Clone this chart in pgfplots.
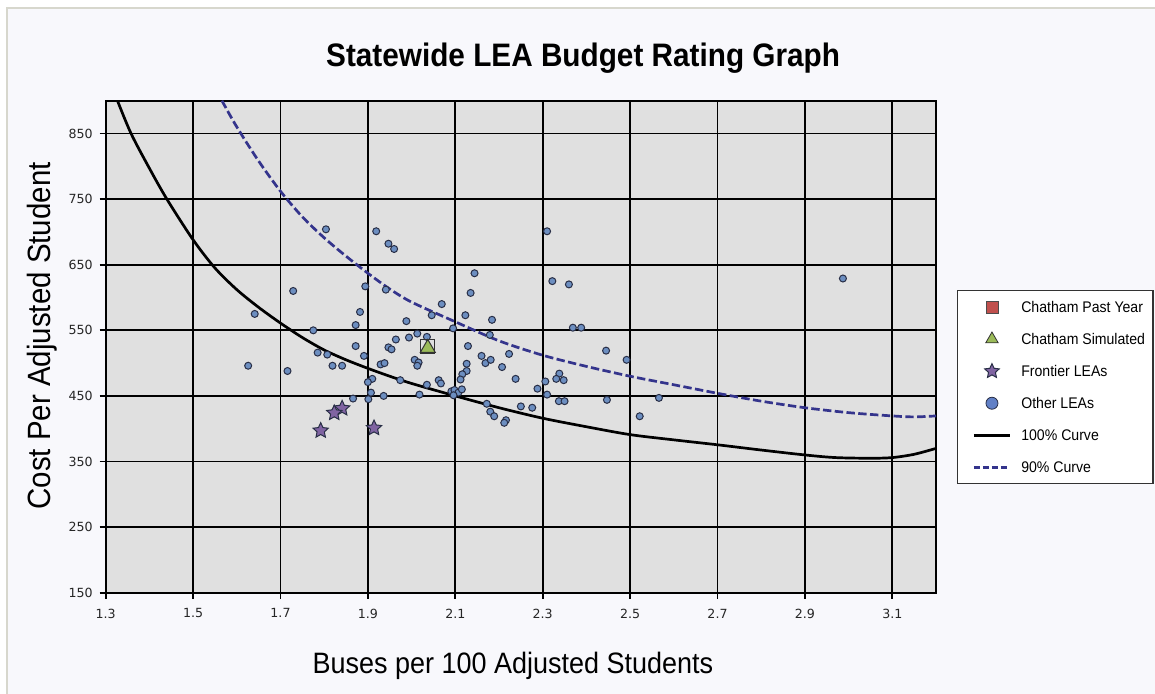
\documentclass[border=0pt]{standalone}
\usepackage{fontspec}
\setmainfont{Liberation Sans}[FakeStretch=0.915]
\newfontfamily\tickfont{DejaVu Sans}
\usepackage{pgfplots}
\pgfplotsset{compat=1.18}
\definecolor{plotbg}{RGB}{224,224,224}
\definecolor{pagebg}{RGB}{248,248,252}
\definecolor{framecol}{RGB}{215,215,205}
\definecolor{dotfill}{RGB}{108,142,192}
\definecolor{dotedge}{RGB}{40,46,70}
\definecolor{starfill}{RGB}{128,100,162}
\definecolor{trifill}{RGB}{155,187,89}
\definecolor{sqfill}{RGB}{192,80,77}
\definecolor{dashcol}{RGB}{52,52,140}
\pgfdeclareplotmark{fstar}{%
  \pgfpathmoveto{\pgfpointpolar{90}{\pgfplotmarksize}}%
  \pgfpathlineto{\pgfpointpolar{126}{0.48\pgfplotmarksize}}%
  \pgfpathlineto{\pgfpointpolar{162}{\pgfplotmarksize}}%
  \pgfpathlineto{\pgfpointpolar{198}{0.48\pgfplotmarksize}}%
  \pgfpathlineto{\pgfpointpolar{234}{\pgfplotmarksize}}%
  \pgfpathlineto{\pgfpointpolar{270}{0.48\pgfplotmarksize}}%
  \pgfpathlineto{\pgfpointpolar{306}{\pgfplotmarksize}}%
  \pgfpathlineto{\pgfpointpolar{342}{0.48\pgfplotmarksize}}%
  \pgfpathlineto{\pgfpointpolar{18}{\pgfplotmarksize}}%
  \pgfpathlineto{\pgfpointpolar{54}{0.48\pgfplotmarksize}}%
  \pgfpathclose
  \pgfusepathqfillstroke
}
\pgfplotsset{
  legmark/.style={legend image code/.code={\path (-3.5pt,0pt) (18pt,0pt);\draw[##1] plot coordinates {(9pt,0pt)};}},
  legline/.style={legend image code/.code={\path (-3.5pt,0pt);\draw[##1] (0pt,0pt) -- (18pt,0pt);}},
}
\begin{document}
\begin{tikzpicture}
\fill[white] (0,0) rectangle (577.5pt,346.5pt);
\filldraw[fill=pagebg, draw=framecol, line width=0.6pt] (3.5pt,-2pt) rectangle (580pt,342.5pt);
\begin{axis}[
  at={(52.85pt,50.15pt)}, anchor=south west,
  width=415.15pt, height=246pt, scale only axis,
  xmin=1.3, xmax=3.2, ymin=150, ymax=900,
  xtick={1.3,1.5,1.7,1.9,2.1,2.3,2.5,2.7,2.9,3.1},
  ytick={150,250,350,450,550,650,750,850},
  xticklabel style={yshift=-1.5pt, /pgf/number format/.cd, fixed, fixed zerofill, precision=1},
  /pgf/number format/assume math mode=true,
  tick label style={font=\tickfont\fontsize{6.3}{7.5}\selectfont, text=black!85},
  grid=major, major grid style={black, line width=0.85pt},
  axis line style={black, line width=0.9pt},
  tick align=outside, major tick length=3pt, tick style={black, line width=0.85pt},
  xtick pos=left, ytick pos=left,
  axis background/.style={fill=plotbg},
  title={Statewide LEA Budget Rating Graph},
  title style={at={(axis description cs:0.575,1.062)}, anchor=center, yshift=0pt, font=\bfseries\fontsize{16.25}{18}\selectfont},
  xlabel={Buses per 100 Adjusted Students},
  xlabel style={at={(axis description cs:0.4905,-0.149)}, anchor=center, font=\fontsize{14.75}{16}\selectfont},
  ylabel={Cost Per Adjusted Student},
  ylabel style={at={(axis description cs:-0.0767,0.522)}, anchor=center, font=\fontsize{16.1}{18}\selectfont},
  legend cell align=left,
  legend style={at={(axis description cs:1.0253,0.615)}, anchor=north west,
    draw=black!80, fill=white, line width=0.6pt,
    font=\fontsize{7.7}{9.2}\selectfont,
    nodes={inner sep=0pt, text height=7pt, text depth=2pt},
    row sep=7pt, column sep=5pt, inner xsep=4pt, inner ysep=3.75pt},
]
% 100% curve
\addplot[black, line width=1.35pt, smooth, forget plot] coordinates {
(1.327,900)(1.358,850)(1.40,797)(1.44,750)(1.50,688)(1.55,645)(1.60,612)(1.65,585)
(1.70,561)(1.75,539)(1.80,520)(1.85,505)(1.90,492)(1.95,480)(2.00,469)(2.10,450)
(2.20,432)(2.30,416)(2.40,403)(2.50,391)(2.60,383)(2.70,375.5)(2.80,367.5)(2.90,360)
(2.97,356)(3.05,355)(3.10,356)(3.15,361)(3.20,370)};
% 90% curve
\addplot[dashcol, line width=1.35pt, dash pattern=on 4.2pt off 1.7pt, smooth, forget plot] coordinates {
(1.566,900)(1.60,860)(1.65,808)(1.70,762)(1.75,723)(1.80,691)(1.85,663)(1.90,637)
(1.95,613)(2.00,593)(2.10,563)(2.20,534)(2.30,512)(2.40,495)(2.50,480)(2.60,467)
(2.70,454)(2.80,442)(2.90,432)(3.00,424.5)(3.10,419.5)(3.15,418)(3.20,419.5)};
% Other LEAs
\addplot[only marks, mark=*, mark size=1.75pt, mark options={fill=dotfill, draw=dotedge, line width=0.5pt}, forget plot] table {
x y
1.804 704
1.919 701
1.947 682
1.960 674
1.729 610
1.641 575
1.894 617
1.941 612
2.069 590
2.046 573
1.882 578
1.872 558
1.775 550
1.988 564
2.013 545
1.994 539
1.964 536
1.947 524
1.954 521
1.872 526
1.785 516
1.807 513
1.891 511
1.626 496
1.716 488
1.819 496
1.841 496
2.007 505
2.016 501
2.013 496
1.929 498
1.938 500
1.910 476
1.900 471
1.974 474
2.035 467
2.062 474
2.067 469
2.018 452
1.936 450
1.907 455
1.901 445
1.866 446
2.035 540
2.310 701
2.144 637
2.135 607
2.322 625
2.360 620
2.123 573
2.184 566
2.095 553
2.179 543
2.369 554
2.388 554
2.129 526
2.160 511
2.169 500
2.181 505
2.223 514
2.207 494
2.126 499
2.126 488
2.116 483
2.112 475
2.238 476
2.445 519
2.492 505
2.306 472
2.288 461
2.310 452
2.338 484
2.331 476
2.348 474
2.337 442
2.350 442
2.447 444
2.566 447
2.522 419
2.250 434
2.276 432
2.172 438
2.180 426
2.189 419
2.216 413
2.212 409
2.091 457
2.098 459
2.107 455
2.115 460
2.096 451
2.987 629
};
% Frontier LEAs
\addplot[only marks, mark=fstar, mark size=4pt, mark options={fill=starfill, draw=dotedge, line width=0.5pt}, forget plot] table {
x y
1.841 431
1.823 424
1.792 397
1.914 401
};
% Chatham Past Year
\addplot[only marks, mark=square, mark size=3.5pt, mark options={draw=black!80, line width=0.5pt}, forget plot] coordinates {(2.037,525)};
% Chatham Simulated
\addplot[only marks, mark=triangle*, mark size=4.3pt, mark options={fill=trifill, draw=black!80, line width=0.5pt}, forget plot] coordinates {(2.037,523)};
% legend
\addlegendimage{legmark, mark=square*, mark size=3pt, mark options={fill=sqfill, draw=black!70, line width=0.4pt}}
\addlegendentry{Chatham Past Year}
\addlegendimage{legmark, mark=triangle*, mark size=3.6pt, mark options={fill=trifill, draw=black!80, line width=0.4pt}}
\addlegendentry{Chatham Simulated}
\addlegendimage{legmark, mark=fstar, mark size=3.8pt, mark options={fill=starfill, draw=dotedge, line width=0.5pt}}
\addlegendentry{Frontier LEAs}
\addlegendimage{legmark, mark=*, mark size=3pt, mark options={fill=dotfill!90!blue, draw=dotedge, line width=0.4pt}}
\addlegendentry{Other LEAs}
\addlegendimage{legline, black, line width=1.35pt}
\addlegendentry{100\% Curve}
\addlegendimage{legline, dashcol, line width=1.35pt, dash pattern=on 3pt off 1.5pt}
\addlegendentry{90\% Curve}
\end{axis}
\pgfresetboundingbox
\useasboundingbox (0,0) rectangle (577.5pt,346.5pt);
\end{tikzpicture}
\end{document}
